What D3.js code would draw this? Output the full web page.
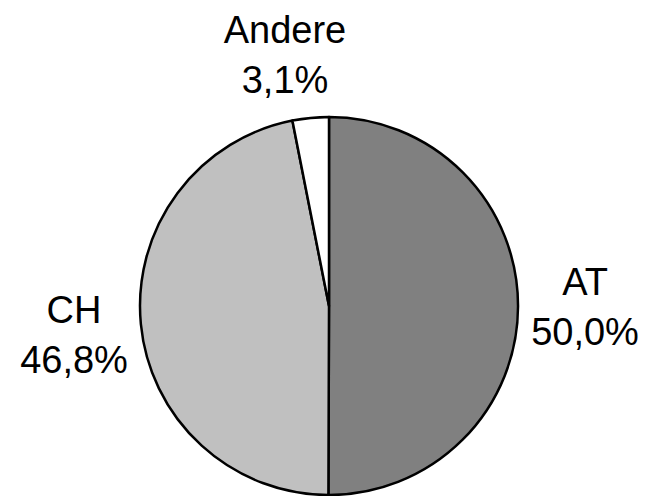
<!DOCTYPE html>
<html><head><meta charset="utf-8">
<script src="https://cdn.jsdelivr.net/npm/d3@7/dist/d3.min.js"></script>
<style>body{margin:0;background:#fff}svg{display:block}</style>
</head><body>
<svg id="c" width="648" height="496"></svg>
<script>
const categories = ["AT", "CH", "Andere"];
const values = [50.0, 46.8, 3.1];
const labels = ["50,0%", "46,8%", "3,1%"];
const colors = ["#808080", "#c0c0c0", "#ffffff"];

const svg = d3.select("#c");
const cx = 329, cy = 306, r = 189;
const g = svg.append("g").attr("transform", `translate(${cx},${cy})`);
const pie = d3.pie().sort(null).value(d => d)(values);
const arc = d3.arc().innerRadius(0).outerRadius(r);
g.selectAll("path").data(pie).join("path")
  .attr("d", arc)
  .attr("fill", (d, i) => colors[i])
  .attr("stroke", "#000").attr("stroke-width", 2.5).attr("stroke-linejoin", "round");

const labelPos = [[585, 295, 345], [74, 323, 373], [285, 43, 93]];
categories.forEach((c, i) => {
  const [x, y1, y2] = labelPos[i];
  const t = svg.append("text").attr("text-anchor", "middle")
    .attr("font-family", "Liberation Sans, Arial, sans-serif").attr("font-size", 38).attr("fill", "#000");
  t.append("tspan").attr("x", x).attr("y", y1).text(c);
  t.append("tspan").attr("x", x).attr("y", y2).text(labels[i]);
});
</script>
</body></html>
